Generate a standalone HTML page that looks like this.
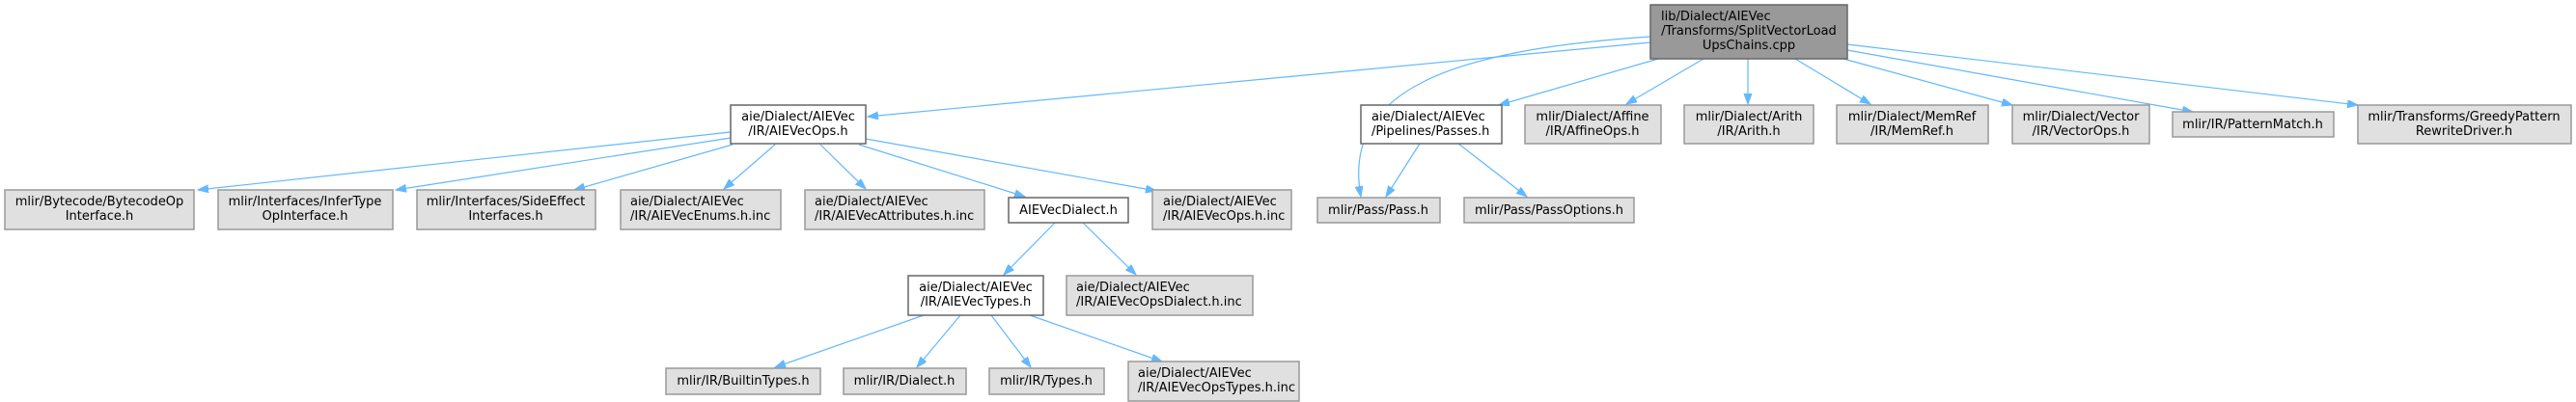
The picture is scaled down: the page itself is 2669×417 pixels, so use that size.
<!DOCTYPE html>
<html><head><meta charset="utf-8"><style>
html,body{margin:0;padding:0;background:#fff;}
svg{display:block;}
text{font-family:"DejaVu Sans","Liberation Sans",sans-serif;font-size:13px;fill:#000;text-anchor:middle;}
text.l{text-anchor:start;}
.g{fill:#e0e0e0;stroke:#999;stroke-width:1.5;}
.w{fill:#fff;stroke:#666;stroke-width:1.5;}
.r{fill:#999;stroke:#666;stroke-width:1.5;}
.e{fill:none;stroke:#63b8ff;stroke-width:1.2;}
</style></head><body>
<svg width="2669" height="417" viewBox="0 0 2669 417" xmlns="http://www.w3.org/2000/svg">
<defs><marker id="a" markerUnits="userSpaceOnUse" markerWidth="12" markerHeight="10" refX="11" refY="4" orient="auto"><path d="M0,0 L11,4 L0,8 z" fill="#63b8ff" stroke="#63b8ff"/></marker></defs>
<g>
<path class="e" marker-end="url(#a)" d="M1710,44 L899,121"/>
<path class="e" marker-end="url(#a)" d="M1710,38 C1500,52 1390,95 1410,204"/>
<path class="e" marker-end="url(#a)" d="M1718,61 L1553,109"/>
<path class="e" marker-end="url(#a)" d="M1765,61 L1685,108"/>
<path class="e" marker-end="url(#a)" d="M1811,61 L1811,108"/>
<path class="e" marker-end="url(#a)" d="M1860,61 L1938,108"/>
<path class="e" marker-end="url(#a)" d="M1910,61 L2085,109"/>
<path class="e" marker-end="url(#a)" d="M1914,52 L2272,116"/>
<path class="e" marker-end="url(#a)" d="M1914,46 L2443,109"/>
<path class="e" marker-end="url(#a)" d="M757,137 L205,197"/>
<path class="e" marker-end="url(#a)" d="M757,143 L410,197"/>
<path class="e" marker-end="url(#a)" d="M759,150 L595,197"/>
<path class="e" marker-end="url(#a)" d="M803,150 L750,196"/>
<path class="e" marker-end="url(#a)" d="M850,150 L897,196"/>
<path class="e" marker-end="url(#a)" d="M890,150 L1062,204"/>
<path class="e" marker-end="url(#a)" d="M897,144 L1198,198"/>
<path class="e" marker-end="url(#a)" d="M1093,231 L1040,285"/>
<path class="e" marker-end="url(#a)" d="M1122,231 L1177,285"/>
<path class="e" marker-end="url(#a)" d="M957,327 L803,381"/>
<path class="e" marker-end="url(#a)" d="M995,327 L950,381"/>
<path class="e" marker-end="url(#a)" d="M1027,327 L1068,381"/>
<path class="e" marker-end="url(#a)" d="M1067,327 L1204,375"/>
<path class="e" marker-end="url(#a)" d="M1471,149 L1436,204"/>
<path class="e" marker-end="url(#a)" d="M1511,149 L1582,204"/>
</g>
<g>
<rect class="r" x="1710" y="5" width="204" height="56"/>
<text class="l" x="1721" y="21">lib/Dialect/AIEVec</text>
<text x="1812" y="36">/Transforms/SplitVectorLoad</text>
<text x="1812" y="51">UpsChains.cpp</text>

<rect class="w" x="757" y="109" width="140" height="40"/>
<text x="827" y="125">aie/Dialect/AIEVec</text><text x="827" y="140">/IR/AIEVecOps.h</text>

<rect class="w" x="1410" y="109" width="146" height="40"/>
<text class="l" x="1421" y="125">aie/Dialect/AIEVec</text><text class="l" x="1421" y="140">/Pipelines/Passes.h</text>

<rect class="g" x="1580" y="109" width="141" height="40"/>
<text x="1650" y="125">mlir/Dialect/Affine</text><text x="1650" y="140">/IR/AffineOps.h</text>

<rect class="g" x="1745" y="109" width="134" height="40"/>
<text x="1812" y="125">mlir/Dialect/Arith</text><text x="1812" y="140">/IR/Arith.h</text>

<rect class="g" x="1903" y="109" width="157" height="40"/>
<text x="1981" y="125">mlir/Dialect/MemRef</text><text x="1981" y="140">/IR/MemRef.h</text>

<rect class="g" x="2085" y="109" width="142" height="40"/>
<text x="2156" y="125">mlir/Dialect/Vector</text><text x="2156" y="140">/IR/VectorOps.h</text>

<rect class="g" x="2251" y="116" width="167" height="26"/>
<text x="2334" y="133">mlir/IR/PatternMatch.h</text>

<rect class="g" x="2443" y="109" width="221" height="40"/>
<text x="2553" y="125">mlir/Transforms/GreedyPattern</text><text x="2553" y="140">RewriteDriver.h</text>

<rect class="g" x="5" y="197" width="196" height="41"/>
<text x="103" y="213">mlir/Bytecode/BytecodeOp</text><text x="103" y="228">Interface.h</text>

<rect class="g" x="226" y="197" width="181" height="41"/>
<text x="316" y="213">mlir/Interfaces/InferType</text><text x="316" y="228">OpInterface.h</text>

<rect class="g" x="432" y="197" width="185" height="41"/>
<text x="524" y="213">mlir/Interfaces/SideEffect</text><text x="524" y="228">Interfaces.h</text>

<rect class="g" x="643" y="197" width="166" height="41"/>
<text class="l" x="653" y="213">aie/Dialect/AIEVec</text><text class="l" x="653" y="228">/IR/AIEVecEnums.h.inc</text>

<rect class="g" x="834" y="197" width="186" height="41"/>
<text class="l" x="844" y="213">aie/Dialect/AIEVec</text><text class="l" x="844" y="228">/IR/AIEVecAttributes.h.inc</text>

<rect class="w" x="1045" y="205" width="124" height="26"/>
<text x="1107" y="222">AIEVecDialect.h</text>

<rect class="g" x="1194" y="197" width="144" height="41"/>
<text class="l" x="1205" y="213">aie/Dialect/AIEVec</text><text class="l" x="1205" y="228">/IR/AIEVecOps.h.inc</text>

<rect class="g" x="1365" y="205" width="127" height="26"/>
<text x="1428" y="222">mlir/Pass/Pass.h</text>

<rect class="g" x="1517" y="205" width="176" height="26"/>
<text x="1605" y="222">mlir/Pass/PassOptions.h</text>

<rect class="w" x="941" y="286" width="140" height="41"/>
<text x="1011" y="302">aie/Dialect/AIEVec</text><text x="1011" y="317">/IR/AIEVecTypes.h</text>

<rect class="g" x="1105" y="286" width="193" height="41"/>
<text class="l" x="1115" y="302">aie/Dialect/AIEVec</text><text class="l" x="1115" y="317">/IR/AIEVecOpsDialect.h.inc</text>

<rect class="g" x="690" y="382" width="160" height="27"/>
<text x="770" y="399">mlir/IR/BuiltinTypes.h</text>

<rect class="g" x="874" y="382" width="127" height="27"/>
<text x="937" y="399">mlir/IR/Dialect.h</text>

<rect class="g" x="1025" y="382" width="119" height="27"/>
<text x="1084" y="399">mlir/IR/Types.h</text>

<rect class="g" x="1169" y="375" width="177" height="41"/>
<text class="l" x="1179" y="391">aie/Dialect/AIEVec</text><text class="l" x="1179" y="406">/IR/AIEVecOpsTypes.h.inc</text>
</g>
</svg>
</body></html>
